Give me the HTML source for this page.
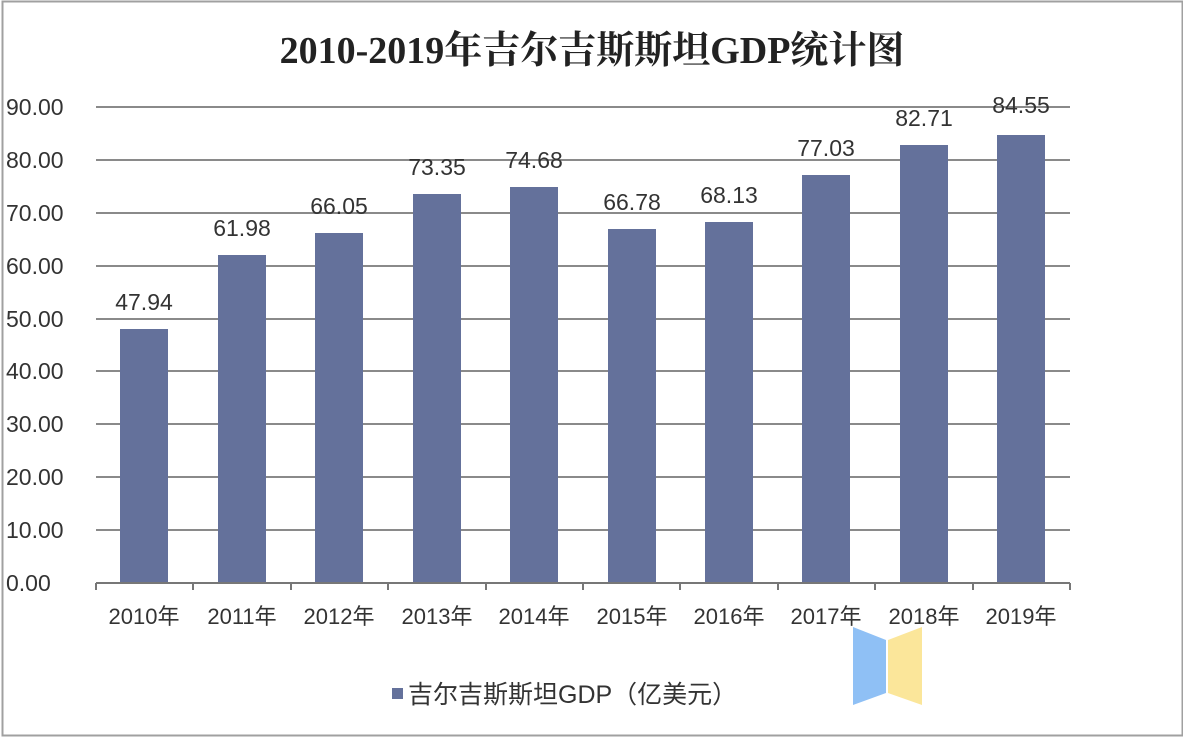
<!DOCTYPE html>
<html><head><meta charset="utf-8"><style>
html,body{margin:0;padding:0;background:#fff;}
svg{display:block;}
</style></head><body>
<svg width="1183" height="738" xmlns="http://www.w3.org/2000/svg">
<rect x="0" y="0" width="1183" height="738" fill="#fff"/>
<rect x="2.5" y="1.5" width="1180" height="734" fill="none" stroke="#a0a0a0" stroke-width="2"/>
<text x="592" y="63" text-anchor="middle" font-family="'Liberation Serif','Noto Serif CJK SC',serif" font-weight="bold" font-size="38" fill="#222">2010-2019年吉尔吉斯斯坦GDP统计图</text>
<g stroke="#8a8a8a" stroke-width="2">
<line x1="96" x2="1070" y1="107" y2="107"/>
<line x1="96" x2="1070" y1="160" y2="160"/>
<line x1="96" x2="1070" y1="213" y2="213"/>
<line x1="96" x2="1070" y1="266" y2="266"/>
<line x1="96" x2="1070" y1="319" y2="319"/>
<line x1="96" x2="1070" y1="371" y2="371"/>
<line x1="96" x2="1070" y1="424" y2="424"/>
<line x1="96" x2="1070" y1="477" y2="477"/>
<line x1="96" x2="1070" y1="530" y2="530"/>
</g>
<g font-family="'Liberation Sans',sans-serif" font-size="23" fill="#333" text-anchor="start">
<text x="6" y="115">90.00</text><text x="6" y="168">80.00</text><text x="6" y="221">70.00</text>
<text x="6" y="274">60.00</text><text x="6" y="327">50.00</text><text x="6" y="379">40.00</text>
<text x="6" y="432">30.00</text><text x="6" y="485">20.00</text><text x="6" y="538">10.00</text>
<text x="6" y="591">0.00</text>
</g>
<g fill="#64719b">
<rect x="120" y="329" width="48" height="254"/>
<rect x="218" y="255" width="48" height="328"/>
<rect x="315" y="233" width="48" height="350"/>
<rect x="413" y="194" width="48" height="389"/>
<rect x="510" y="187" width="48" height="396"/>
<rect x="608" y="229" width="48" height="354"/>
<rect x="705" y="222" width="48" height="361"/>
<rect x="802" y="175" width="48" height="408"/>
<rect x="900" y="145" width="48" height="438"/>
<rect x="997" y="135" width="48" height="448"/>
</g>
<g stroke="#777" stroke-width="2">
<line x1="96" x2="1070" y1="583" y2="583"/>
<line x1="96" x2="96" y1="583" y2="590"/><line x1="193" x2="193" y1="583" y2="590"/>
<line x1="291" x2="291" y1="583" y2="590"/><line x1="388" x2="388" y1="583" y2="590"/>
<line x1="486" x2="486" y1="583" y2="590"/><line x1="583" x2="583" y1="583" y2="590"/>
<line x1="680" x2="680" y1="583" y2="590"/><line x1="778" x2="778" y1="583" y2="590"/>
<line x1="875" x2="875" y1="583" y2="590"/><line x1="973" x2="973" y1="583" y2="590"/>
<line x1="1070" x2="1070" y1="583" y2="590"/>
</g>
<g font-family="'Liberation Sans',sans-serif" font-size="23" fill="#333" text-anchor="middle">
<text x="144" y="310">47.94</text><text x="242" y="236">61.98</text><text x="339" y="214">66.05</text>
<text x="437" y="175">73.35</text><text x="534" y="168">74.68</text><text x="632" y="210">66.78</text>
<text x="729" y="203">68.13</text><text x="826" y="156">77.03</text><text x="924" y="126">82.71</text>
<text x="1021" y="113">84.55</text>
</g>
<g font-family="'Liberation Sans','Noto Sans CJK SC',sans-serif" font-size="22" fill="#333" text-anchor="middle">
<text x="144" y="624">2010年</text><text x="242" y="624">2011年</text><text x="339" y="624">2012年</text>
<text x="437" y="624">2013年</text><text x="534" y="624">2014年</text><text x="632" y="624">2015年</text>
<text x="729" y="624">2016年</text><text x="826" y="624">2017年</text><text x="924" y="624">2018年</text>
<text x="1021" y="624">2019年</text>
</g>
<polygon points="853,627 886,640 886,693 853,705" fill="#8fc0f5"/>
<polygon points="888,640 922,627 922,705 888,693" fill="#fbe69a"/>
<rect x="392" y="688" width="11" height="11" fill="#64719b"/>
<text x="408" y="703" font-family="'Liberation Sans','Noto Sans CJK SC',sans-serif" font-size="25" fill="#333">吉尔吉斯斯坦GDP（亿美元）</text>
</svg>
</body></html>
